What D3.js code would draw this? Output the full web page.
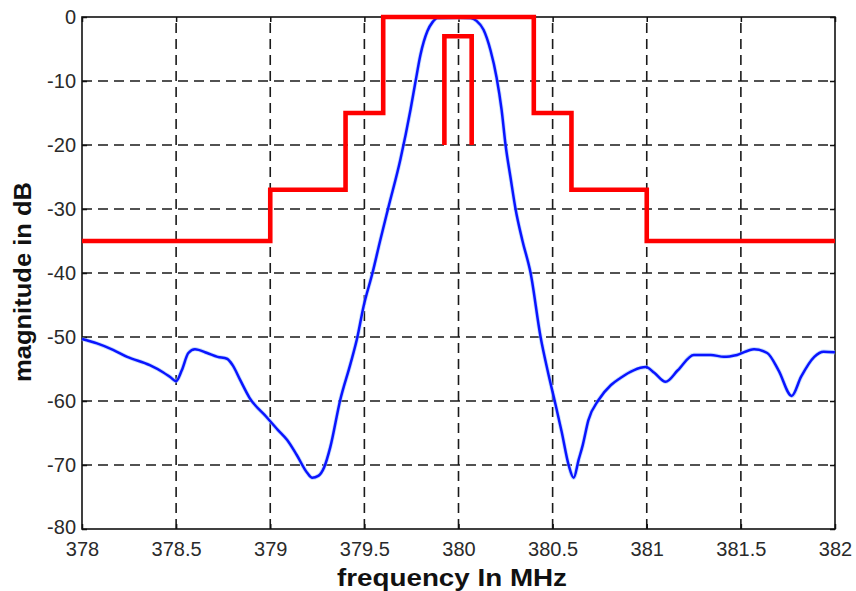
<!DOCTYPE html>
<html>
<head>
<meta charset="utf-8">
<script src="https://cdn.jsdelivr.net/npm/d3@7/dist/d3.min.js"></script>
<style>
  html, body { margin: 0; padding: 0; background: #fff; }
  svg { display: block; }
</style>
</head>
<body>
<svg id="chart" width="856" height="591"></svg>
<script>
// Filter response (blue) sampled over frequency
const freqMHz = [378.00, 378.08, 378.165, 378.24, 378.36, 378.43, 378.47, 378.50, 378.53, 378.565,
  378.60, 378.665, 378.72, 378.77, 378.80, 378.84, 378.89, 378.98, 379.04, 379.09,
  379.14, 379.197, 379.223, 379.255, 379.287, 379.319, 379.372, 379.426, 379.463, 379.495,
  379.543, 379.585, 379.628, 379.691, 379.745, 379.771, 379.798, 379.835, 379.862, 379.888,
  380.00, 380.064, 380.096, 380.133, 380.170, 380.202, 380.229, 380.25, 380.277, 380.303,
  380.34, 380.383, 380.436, 380.473, 380.511, 380.548, 380.585, 380.612, 380.638, 380.66,
  380.69, 380.745, 380.81, 380.86, 380.93, 380.995, 381.04, 381.10, 381.165, 381.25,
  381.34, 381.41, 381.48, 381.57, 381.64, 381.70, 381.77, 381.82, 381.89, 381.94, 382.00];
const magnitudeDb = [-50.3, -51.0, -52.0, -53.1, -54.4, -55.5, -56.3, -56.9, -55.2, -52.5,
  -51.9, -52.5, -53.1, -53.4, -54.4, -56.7, -59.5, -62.5, -64.5, -66.1,
  -68.4, -71.25, -72.0, -71.7, -70.3, -67.2, -59.8, -54.2, -50.0, -45.3,
  -40.0, -34.8, -29.7, -22.3, -14.5, -10.2, -5.9, -2.2, -0.8, -0.15,
  -0.1, -0.15, -0.6, -2.0, -5.2, -9.4, -14.5, -20.0, -25.2, -30.0,
  -35.0, -40.0, -50.0, -55.2, -60.0, -64.8, -70.0, -72.0, -69.2, -66.9,
  -63.0, -59.8, -57.5, -56.4, -55.2, -54.7, -55.6, -57.0, -55.2, -52.8,
  -52.8, -53.1, -52.8, -51.9, -52.5, -55.2, -59.2, -56.2, -53.1, -52.3, -52.4];

// Spectrum emission mask (red): step edges and the level that starts at each edge
const maskEdges = [378, 379, 379.4, 379.6, 380.4, 380.6, 381, 382];
const maskLevels = [-35, -27, -15, 0, -15, -27, -35, -35];

// Channel marker (inner red bracket)
const channelFreq = [379.925, 379.925, 380.07, 380.07];
const channelLevel = [-20, -3, -3, -20];

// Axis ticks
const xTicks = [378, 378.5, 379, 379.5, 380, 380.5, 381, 381.5, 382];
const xTickLabels = ["378", "378.5", "379", "379.5", "380", "380.5", "381", "381.5", "382"];
const yTicks = [0, -10, -20, -30, -40, -50, -60, -70, -80];
const yTickLabels = ["0", "-10", "-20", "-30", "-40", "-50", "-60", "-70", "-80"];

const plotLeft = 82, plotRight = 835, plotTop = 17, plotBottom = 529;
const svg = d3.select("#chart");

const x = d3.scaleLinear().domain([378, 382]).range([plotLeft, plotRight]);
const y = d3.scaleLinear().domain([-80, 0]).range([plotBottom, plotTop]);

const font = "'Liberation Sans', Arial, sans-serif";

// Dashed grid
const grid = svg.append("g").attr("stroke", "#1a1a1a").attr("stroke-width", 1.6)
  .attr("stroke-dasharray", "10,6");
grid.selectAll("line.gx").data(xTicks.slice(1, -1)).join("line")
  .attr("x1", d => x(d)).attr("x2", d => x(d))
  .attr("y1", plotBottom).attr("y2", plotTop);
grid.selectAll("line.gy").data(yTicks.slice(1, -1)).join("line")
  .attr("x1", plotLeft).attr("x2", plotRight)
  .attr("y1", d => y(d)).attr("y2", d => y(d));

// Axes (ticks point inward on every side)
const tickLen = 5;
const xAxisB = d3.axisBottom(x).tickValues(xTicks).tickSize(-tickLen).tickPadding(9)
  .tickFormat((d, i) => xTickLabels[i]);
const xAxisT = d3.axisTop(x).tickValues(xTicks).tickSize(-tickLen).tickFormat("");
const yAxisL = d3.axisLeft(y).tickValues(yTicks).tickSize(-tickLen).tickPadding(6)
  .tickFormat((d, i) => yTickLabels[i]);
const yAxisR = d3.axisRight(y).tickValues(yTicks).tickSize(-tickLen).tickFormat("");

function styleAxis(g) {
  g.select(".domain").remove();
  g.selectAll(".tick line").attr("stroke", "#111").attr("stroke-width", 1.5);
  g.selectAll("text").attr("fill", "#2a2a2a").style("font-family", font).style("font-size", "20px");
}
const gxb = svg.append("g").attr("transform", `translate(0,${plotBottom})`).call(xAxisB).call(styleAxis);
gxb.selectAll("text").attr("dy", "0.9em");
svg.append("g").attr("transform", `translate(0,${plotTop})`).call(xAxisT).call(styleAxis);
const gyl = svg.append("g").attr("transform", `translate(${plotLeft},0)`).call(yAxisL).call(styleAxis);
// lift the bottom-most label slightly so it clears the first frequency label
gyl.selectAll(".tick text").filter(d => d === -80).attr("dy", "0.2em");
svg.append("g").attr("transform", `translate(${plotRight},0)`).call(yAxisR).call(styleAxis);

// Frame
svg.append("rect").attr("x", plotLeft).attr("y", plotTop)
  .attr("width", plotRight - plotLeft).attr("height", plotBottom - plotTop)
  .attr("fill", "none").attr("stroke", "#111").attr("stroke-width", 1.6);

// Filter response
const respLine = d3.line().x((d, i) => x(freqMHz[i])).y(d => y(d)).curve(d3.curveMonotoneX);
svg.append("path").datum(magnitudeDb).attr("d", respLine)
  .attr("fill", "none").attr("stroke", "#9ec5ff").attr("stroke-width", 4.2).attr("opacity", 0.6);
svg.append("path").datum(magnitudeDb).attr("d", respLine)
  .attr("fill", "none").attr("stroke", "#0a14ff").attr("stroke-width", 2.5)
  .attr("stroke-linejoin", "round");

// Emission mask
const maskLine = d3.line().x((d, i) => x(maskEdges[i])).y(d => y(d)).curve(d3.curveStepAfter);
svg.append("path").datum(maskLevels).attr("d", maskLine)
  .attr("fill", "none").attr("stroke", "#ff0000").attr("stroke-width", 4.6)
  .attr("stroke-linejoin", "miter");

// Channel marker
const chanLine = d3.line().x((d, i) => x(channelFreq[i])).y(d => y(d));
svg.append("path").datum(channelLevel).attr("d", chanLine)
  .attr("fill", "none").attr("stroke", "#ff0000").attr("stroke-width", 4.6)
  .attr("stroke-linejoin", "miter");

// Axis titles
svg.append("text").attr("x", 452).attr("y", 586).attr("text-anchor", "middle")
  .style("font-family", font).style("font-size", "23px").style("font-weight", "bold")
  .attr("fill", "#111").attr("textLength", 230).attr("lengthAdjust", "spacingAndGlyphs")
  .text("frequency In MHz");
svg.append("text").attr("transform", "translate(31,282) rotate(-90)").attr("text-anchor", "middle")
  .style("font-family", font).style("font-size", "23px").style("font-weight", "bold")
  .attr("fill", "#111").attr("textLength", 200).attr("lengthAdjust", "spacingAndGlyphs")
  .text("magnitude in dB");
</script>
</body>
</html>
